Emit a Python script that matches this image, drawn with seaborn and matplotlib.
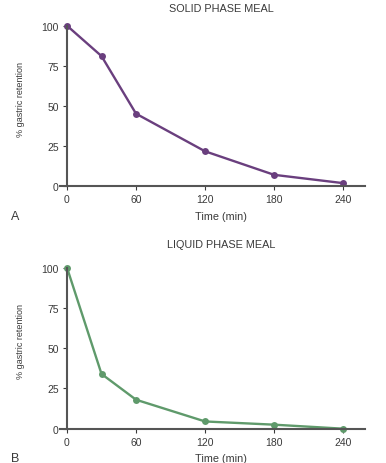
import matplotlib
matplotlib.use("Agg")
import matplotlib.pyplot as plt
import seaborn as sns
import pandas as pd

time_min = [0, 30, 60, 120, 180, 240]
solid_retention = [100, 81, 45, 21.5, 6.8, 1.6]
liquid_retention = [100, 34, 18, 4.5, 2.5, 0]
x_ticks = [0, 60, 120, 180, 240]
y_ticks = [0, 25, 50, 75, 100]

sns.set_theme(style="white")
plt.rcParams['font.family'] = ['Liberation Sans', 'DejaVu Sans']

fig = plt.figure(figsize=(3.86, 4.64), dpi=100)
W, H = 386, 464

def make_ax(top_px, bottom_px):
    left = 67 / W
    width = 298 / W
    b = 1 - bottom_px / H
    h = (bottom_px - top_px) / H
    return fig.add_axes([left, b, width, h])

panels = [
    (26.7, 186.7, solid_retention, "#6a3f7e", "SOLID PHASE MEAL", "A", 9, 217),
    (268.7, 429.7, liquid_retention, "#5f9a6b", "LIQUID PHASE MEAL", "B", 245, 459),
]
text_col = "#3a3a3a"
for top, bot, vals, col, title, letter, ty, ly in panels:
    ax = make_ax(top, bot)
    df = pd.DataFrame({"t": time_min, "r": vals})
    sns.lineplot(data=df, x="t", y="r", ax=ax, color=col, linewidth=1.7,
                 marker="o", markersize=5, markeredgewidth=0, clip_on=False)
    ax.set_xlim(0, 259)
    ax.set_ylim(0, 100)
    ax.set_xticks(x_ticks)
    ax.set_yticks(y_ticks)
    ax.tick_params(axis="both", labelsize=7.5, colors=text_col, length=3, width=0.8,
                   direction="out", bottom=True, left=True, pad=3)
    for s in ["top", "right"]:
        ax.spines[s].set_visible(False)
    for s in ["left", "bottom"]:
        ax.spines[s].set_color("#555555")
        ax.spines[s].set_linewidth(1.5)
    ax.spines["bottom"].set_bounds(-6, 259)
    ax.set_xlabel("")
    ax.set_ylabel("")
    ax.patch.set_alpha(0)
    fig.text(221 / W, 1 - ty / H, title, ha="center", va="center", fontsize=7.8, color=text_col)
    fig.text(221 / W, 1 - ly / H, "Time (min)", ha="center", va="center", fontsize=7.8, color=text_col)
    fig.text(15 / W, 1 - ly / H, letter, ha="center", va="center", fontsize=9, color=text_col)
    fig.text(21 / W, 1 - (top + 73) / H, "% gastric retention", ha="center", va="center",
             rotation=90, fontsize=6.5, color=text_col)

fig.savefig("out.png", dpi=100)
